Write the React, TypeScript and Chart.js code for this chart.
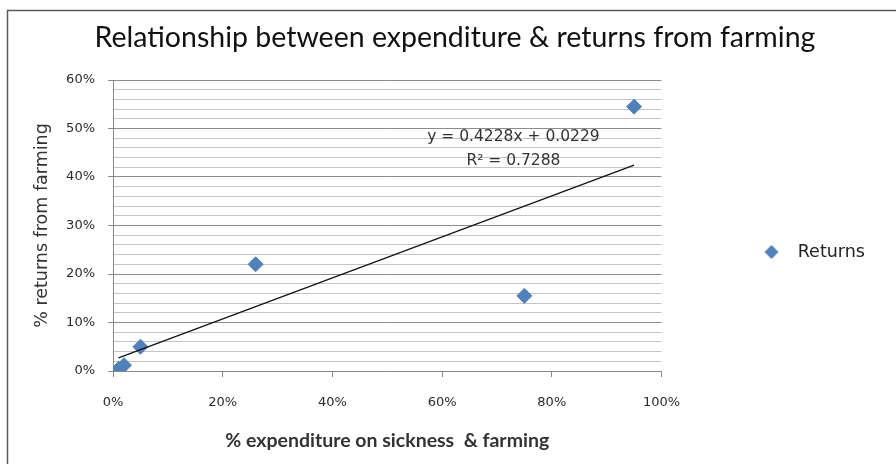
import React, { useEffect, useRef } from 'react';
import { Chart, registerables } from 'chart.js';

Chart.register(...registerables);

// ---- data ----
const chartTitle = 'Relationship between expenditure & returns from farming';
const seriesName = 'Returns';
const xAxisTitle = '% expenditure on sickness  & farming';
const yAxisTitle = '% returns from farming';
const expenditure = [0.01, 0.02, 0.05, 0.26, 0.75, 0.95];
const returnsPct = [0.004, 0.012, 0.05, 0.22, 0.155, 0.545];
const trendSlope = 0.4228;
const trendIntercept = 0.0229;
const trendEquation = 'y = 0.4228x + 0.0229';
const trendR2 = 'R² = 0.7288';
const xMin = 0;
const xMax = 1;
const xStep = 0.2;
const yMin = 0;
const yMax = 0.6;
const yStep = 0.02;
const yLabelEvery = 10; // percent

const BLUE = '#4F81BD';

function pct(v: number) {
  return Math.round(v * 100);
}

function makeDiamond(r: number, color: string) {
  const c = document.createElement('canvas');
  const s = Math.ceil(r * 2) + 2;
  c.width = s;
  c.height = s;
  const g = c.getContext('2d')!;
  const m = s / 2;
  g.fillStyle = color;
  g.beginPath();
  g.moveTo(m - r, m);
  g.lineTo(m, m - r);
  g.lineTo(m + r, m);
  g.lineTo(m, m + r);
  g.closePath();
  g.fill();
  return c;
}

const frameBorder = {
  id: 'frameBorder',
  afterDraw(chart: any) {
    const ctx = chart.ctx;
    ctx.save();
    ctx.strokeStyle = '#5a5a5a';
    ctx.lineWidth = 1.5;
    ctx.beginPath();
    ctx.moveTo(7.5, chart.height);
    ctx.lineTo(7.5, 10.5);
    ctx.lineTo(chart.width, 10.5);
    ctx.stroke();
    ctx.restore();
  },
};

const trendLabel = {
  id: 'trendLabel',
  afterDatasetsDraw(chart: any) {
    const ctx = chart.ctx;
    const xs = chart.scales.x;
    const ys = chart.scales.y;
    const cx = xs.getPixelForValue(0.73);
    ctx.save();
    ctx.fillStyle = '#333';
    ctx.font = '15.5px "DejaVu Sans"';
    ctx.textAlign = 'center';
    ctx.textBaseline = 'middle';
    ctx.fillText(trendEquation, cx, ys.getPixelForValue(0.483));
    ctx.fillText(trendR2, cx, ys.getPixelForValue(0.434));
    ctx.restore();
  },
};

export default function App() {
  const ref = useRef<HTMLCanvasElement | null>(null);

  useEffect(() => {
    const canvas = ref.current;
    if (!canvas) return;
    const lo = Math.min(...expenditure);
    const hi = Math.max(...expenditure);
    const trendPts = [
      { x: lo, y: trendSlope * lo + trendIntercept },
      { x: hi, y: trendSlope * hi + trendIntercept },
    ];
    const legendDiamond = makeDiamond(7, BLUE);

    const chart = new Chart(canvas, {
      type: 'scatter',
      data: {
        datasets: [
          {
            label: seriesName,
            data: expenditure.map((x, i) => ({ x, y: returnsPct[i] })),
            pointStyle: 'rectRot',
            pointRadius: 7.5,
            pointBorderWidth: 1,
            backgroundColor: BLUE,
            borderColor: BLUE,
            order: 1,
          },
          {
            label: 'trend',
            type: 'line',
            data: trendPts,
            borderColor: '#111',
            borderWidth: 1.2,
            pointRadius: 0,
            fill: false,
            order: 0,
          } as any,
        ],
      },
      options: {
        responsive: false,
        animation: false,
        devicePixelRatio: 1,
        events: [],
        layout: { padding: { left: 42, right: 28, top: 0, bottom: 0 } },
        plugins: {
          tooltip: { enabled: false },
          title: {
            display: true,
            text: chartTitle,
            color: '#111',
            font: { family: 'Lato', size: 28.5, weight: 'normal' },
            padding: { top: 20.9, bottom: 24.9 },
          },
          legend: {
            display: true,
            position: 'right',
            title: { display: true, text: '', font: { size: 12 }, padding: { top: 0, bottom: 25.6 } },
            labels: {
              usePointStyle: true,
              pointStyleWidth: 35,
              padding: 92.5,
              color: '#222',
              font: { family: 'DejaVu Sans', size: 17.5 },
              filter: (item: any) => item.datasetIndex === 0,
              generateLabels: (ch: any) => {
                const items = (Chart.defaults.plugins.legend.labels as any).generateLabels(ch);
                return items.map((it: any) => ({ ...it, pointStyle: legendDiamond }));
              },
            },
          },
        },
        scales: {
          x: {
            type: 'linear',
            position: 'bottom',
            min: xMin,
            max: xMax,
            afterFit: (s: any) => {
              s.height = 93;
            },
            ticks: {
              stepSize: xStep,
              callback: (v: any) => pct(Number(v)) + '%',
              color: '#2a2a2a',
              font: { family: 'DejaVu Sans', size: 13 },
              padding: 17.5,
              maxRotation: 0,
            },
            grid: {
              drawOnChartArea: false,
              drawTicks: true,
              tickLength: 6,
              tickColor: '#888',
            },
            border: { display: true, color: '#888', width: 1 },
            title: {
              display: true,
              text: xAxisTitle,
              color: '#333',
              font: { family: 'Lato', size: 19.5, weight: 'bold' },
              padding: { top: 0, bottom: 11.3 },
            },
          },
          y: {
            type: 'linear',
            position: 'left',
            min: yMin,
            max: yMax,
            afterFit: (s: any) => {
              s.width = 71;
            },
            ticks: {
              stepSize: yStep,
              autoSkip: false,
              callback: (v: any) => {
                const p = pct(Number(v));
                return p % yLabelEvery === 0 ? p + '%' : '';
              },
              color: '#2a2a2a',
              font: { family: 'DejaVu Sans', size: 13 },
              padding: 13,
            },
            grid: {
              drawOnChartArea: true,
              drawTicks: true,
              tickLength: 5,
              color: (c: any) =>
                c.tick && pct(c.tick.value) % yLabelEvery === 0 ? '#8c8c8c' : '#c4c4c4',
              tickColor: (c: any) =>
                c.tick && pct(c.tick.value) % yLabelEvery === 0 ? '#888' : 'rgba(0,0,0,0)',
            },
            border: { display: true, color: '#888', width: 1 },
            title: {
              display: true,
              text: yAxisTitle,
              color: '#333',
              font: { family: 'DejaVu Sans', size: 17.5 },
              padding: { top: -10.5, bottom: 0 },
            },
          },
        },
      },
      plugins: [frameBorder, trendLabel],
    } as any);

    return () => chart.destroy();
  }, []);

  return (
    <div style={{ position: 'fixed', left: 0, top: 0, width: 896, height: 464, background: '#fff' }}>
      <canvas ref={ref} width={896} height={464} style={{ display: 'block' }} />
    </div>
  );
}
